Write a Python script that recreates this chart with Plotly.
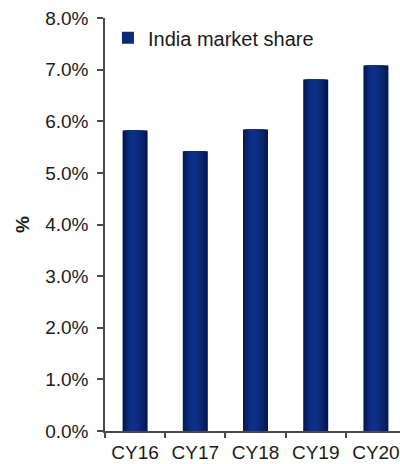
import plotly.graph_objects as go

categories = ["CY16", "CY17", "CY18", "CY19", "CY20"]
market_share = [5.82, 5.42, 5.84, 6.81, 7.08]
y_ticks = [0, 1, 2, 3, 4, 5, 6, 7, 8]
series_name = "India market share"

BAR_W = 0.415
# layered bars to mimic the cylinder-like gradient shading: (left frac, right frac, colour)
layers = [
    (0.00, 1.00, "#041650"),
    (0.05, 0.93, "#071D5D"),
    (0.12, 0.84, "#0A246B"),
    (0.20, 0.72, "#0C2A7A"),
    (0.28, 0.58, "#0E2F88"),
]

fig = go.Figure()
for i, (lf, rf, col) in enumerate(layers):
    fig.add_trace(go.Bar(
        x=categories, y=market_share,
        width=BAR_W * (rf - lf),
        offset=-BAR_W / 2 + BAR_W * lf,
        marker=dict(color=col, line=dict(width=0)),
        name=series_name,
        showlegend=(i == 3),
        hoverinfo="skip" if i != 0 else None,
    ))

font_family = "Liberation Sans, Arial, sans-serif"
axis_col = "#4a4a4a"

fig.update_layout(
    width=400, height=464,
    margin=dict(l=105, r=0, t=18, b=33, autoexpand=False),
    barmode="overlay",
    plot_bgcolor="white", paper_bgcolor="white",
    font=dict(family=font_family, size=19, color="#1a1a1a"),
    legend=dict(
        x=0.01, xanchor="left", y=0.952, yanchor="middle",
        bgcolor="rgba(0,0,0,0)", font=dict(size=20, color="#1a1a1a"),
        itemwidth=30, tracegroupgap=0,
    ),
    xaxis=dict(
        range=[-0.5, 4.4], showline=True, linecolor=axis_col, linewidth=1.5,
        ticks="outside", tickson="boundaries", ticklen=5, tickcolor=axis_col, tickwidth=1.5,
        ticklabelstandoff=3, ticklabeloverflow="allow",
        showgrid=False, automargin=False, tickfont=dict(size=19),
    ),
    yaxis=dict(
        range=[0, 8], tickvals=y_ticks, ticktext=[f"{v:.1f}%" for v in y_ticks],
        showline=True, linecolor=axis_col, linewidth=1.5,
        ticks="outside", ticklen=6, tickcolor=axis_col, tickwidth=1.5,
        ticklabelstandoff=5, ticklabeloverflow="allow",
        showgrid=False, zeroline=False, automargin=False, tickfont=dict(size=19),
        title=dict(text="<b>%</b>", font=dict(size=19), standoff=10),
    ),
)

fig.write_html(
    "out.html",
    config={"displayModeBar": False},
    post_script="document.body.style.margin='0';document.body.style.overflow='hidden';",
)
